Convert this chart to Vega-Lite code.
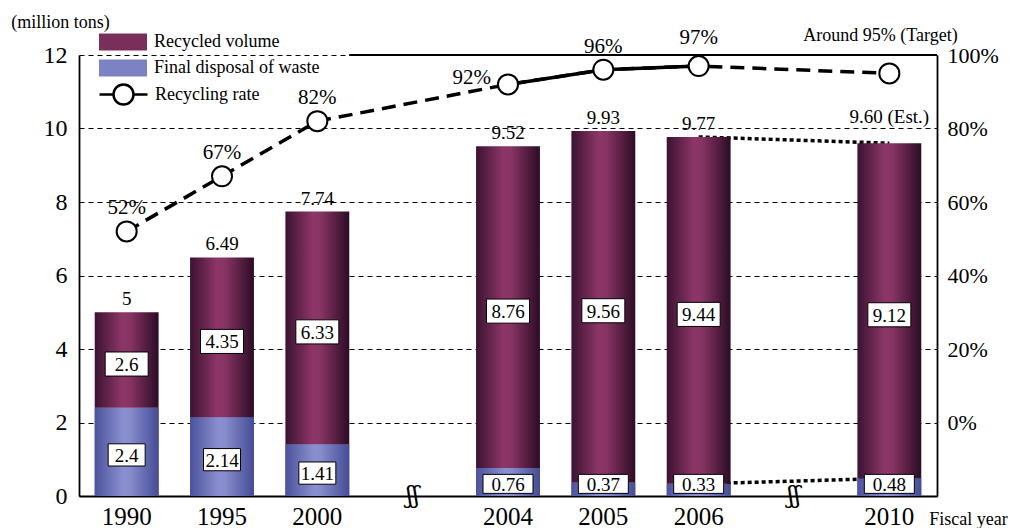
{
  "$schema": "https://vega.github.io/schema/vega-lite/v6.json",
  "width": 858,
  "height": 441,
  "autosize": {"type": "none"},
  "padding": {"left": 79, "top": 55, "right": 74, "bottom": 32},
  "background": "white",
  "config": {
    "font": "Liberation Serif",
    "view": {"stroke": null},
    "style": {
      "guide-label": {"font": "Liberation Serif", "fill": "black"},
      "guide-title": {"font": "Liberation Serif", "fill": "black", "fontWeight": "normal"}
    },
    "axis": {"labelColor": "black", "titleColor": "black", "labelFont": "Liberation Serif", "titleFont": "Liberation Serif", "titleFontWeight": "normal", "ticks": false, "domainColor": "black", "domainWidth": 1.8},
    "axisLeft": {"labelFont": "Liberation Serif", "titleFont": "Liberation Serif", "labelFontSize": 24, "titleFontSize": 18, "labelColor": "black", "titleColor": "black"},
    "axisRight": {"labelFont": "Liberation Serif", "titleFont": "Liberation Serif", "labelFontSize": 22, "titleFontSize": 18, "labelColor": "black", "titleColor": "black"},
    "legend": {"labelFont": "Liberation Serif", "titleFont": "Liberation Serif"},
    "text": {"font": "Liberation Serif", "color": "black"}
  },
  "datasets": {
    "main": [
      {"year": "1990", "disposal": 2.4, "recycled": 2.6, "total": 5, "totalLabel": "5", "rate": 52, "rateLabel": "52%"},
      {"year": "1995", "disposal": 2.14, "recycled": 4.35, "total": 6.49, "totalLabel": "6.49", "rate": 67, "rateLabel": "67%"},
      {"year": "2000", "disposal": 1.41, "recycled": 6.33, "total": 7.74, "totalLabel": "7.74", "rate": 82, "rateLabel": "82%"},
      {"year": "2004", "disposal": 0.76, "recycled": 8.76, "total": 9.52, "totalLabel": "9.52", "rate": 92, "rateLabel": "92%"},
      {"year": "2005", "disposal": 0.37, "recycled": 9.56, "total": 9.93, "totalLabel": "9.93", "rate": 96, "rateLabel": "96%"},
      {"year": "2006", "disposal": 0.33, "recycled": 9.44, "total": 9.77, "totalLabel": "9.77", "rate": 97, "rateLabel": "97%"},
      {"year": "2010", "disposal": 0.48, "recycled": 9.12, "total": 9.6, "totalLabel": "9.60 (Est.)", "rate": 95, "rateLabel": ""}
    ],
    "links": [
      {"year": "2006", "year2": "2010", "v1": 9.77, "v2": 9.6},
      {"year": "2006", "year2": "2010", "v1": 0.33, "v2": 0.48}
    ],
    "frameTop": [
      {"year": "2000", "top": 12}
    ],
    "breaks": [
      {"year": "gap1", "sym": "ʃʃ"},
      {"year": "gap2", "sym": "ʃʃ"}
    ],
    "legendRows": []
  },
  "encoding": {
    "x": {
      "field": "year",
      "type": "nominal",
      "scale": {"domain": ["1990", "1995", "2000", "gap1", "2004", "2005", "2006", "gap2", "2010"], "paddingInner": 0.33, "paddingOuter": 0.165},
      "axis": {
        "title": "Fiscal year",
        "titleX": 889,
        "titleY": 28,
        "titleAlign": "center",
        "titleBaseline": "alphabetic",
        "titleFontSize": 18,
        "titleFont": "Liberation Serif",
        "labelFont": "Liberation Serif",
        "labelExpr": "indexof(datum.value, 'gap') === 0 ? '' : datum.value",
        "labelFontSize": 25,
        "labelPadding": 8,
        "labelAngle": 0,
        "domain": true
      }
    }
  },
  "layer": [
    {
      "data": {"name": "main"},
      "transform": [
        {"calculate": "(datum.disposal + datum.total) / 2", "as": "recMid"},
        {"calculate": "datum.disposal / 2", "as": "disMid"}
      ],
      "layer": [
        {
          "mark": {"type": "bar", "fill": {"gradient": "linear", "x1": 0, "y1": 0, "x2": 1, "y2": 0, "stops": [{"offset": 0, "color": "#4c529c"}, {"offset": 0.45, "color": "#8a90cf"}, {"offset": 0.55, "color": "#868ccc"}, {"offset": 1, "color": "#464c95"}]}},
          "encoding": {
            "y": {
              "field": "disposal",
              "type": "quantitative",
              "scale": {"domain": [0, 12], "nice": false, "zero": true},
              "axis": {
                "title": "(million tons)",
                "titleFont": "Liberation Serif",
                "labelFont": "Liberation Serif",
                "titleAngle": 0,
                "titleX": -19,
                "titleY": -28,
                "titleAlign": "center",
                "titleBaseline": "alphabetic",
                "titleFontSize": 18,
                "values": [0, 2, 4, 6, 8, 10, 12],
                "labelFontSize": 24,
                "labelPadding": 12,
                "domain": true,
                "grid": true,
                "gridColor": "black",
                "gridDash": [5, 4],
                "gridWidth": 1.2,
                "gridOpacity": 1
              }
            }
          }
        },
        {
          "data": {"name": "links"},
          "mark": {"type": "rule", "strokeDash": [4, 3], "strokeWidth": 3.5, "color": "black"},
          "encoding": {
            "y": {"field": "v1", "type": "quantitative"},
            "y2": {"field": "v2"},
            "x2": {"field": "year2"}
          }
        },
        {
          "data": {"name": "frameTop"},
          "mark": {"type": "rule", "strokeWidth": 1.8, "color": "black"},
          "encoding": {
            "x": {"field": "year", "type": "nominal", "bandPosition": 1},
            "x2": {"value": "width"},
            "y": {"field": "top", "type": "quantitative"}
          }
        },
        {
          "mark": {"type": "bar", "fill": {"gradient": "linear", "x1": 0, "y1": 0, "x2": 1, "y2": 0, "stops": [{"offset": 0, "color": "#4c529c"}, {"offset": 0.45, "color": "#8a90cf"}, {"offset": 0.55, "color": "#868ccc"}, {"offset": 1, "color": "#464c95"}]}},
          "encoding": {
            "y": {"field": "disposal", "type": "quantitative"}
          }
        },
        {
          "mark": {"type": "bar", "fill": {"gradient": "linear", "x1": 0, "y1": 0, "x2": 1, "y2": 0, "stops": [{"offset": 0, "color": "#3b1232"}, {"offset": 0.42, "color": "#8b3666"}, {"offset": 0.55, "color": "#873464"}, {"offset": 1, "color": "#2c0c24"}]}},
          "encoding": {
            "y": {"field": "total", "type": "quantitative"},
            "y2": {"field": "disposal"}
          }
        },
        {
          "mark": {"type": "point", "shape": "M-1,-0.56H1V0.56H-1Z", "size": 1849, "filled": true, "fill": "white", "stroke": "black", "strokeWidth": 1, "opacity": 1, "yOffset": 4},
          "encoding": {"y": {"field": "recMid", "type": "quantitative"}}
        },
        {
          "mark": {"type": "text", "fontSize": 19, "baseline": "middle", "dy": 5},
          "encoding": {
            "y": {"field": "recMid", "type": "quantitative"},
            "text": {"field": "recycled", "type": "nominal"}
          }
        },
        {
          "transform": [{"filter": "datum.disposal >= 1"}],
          "layer": [
            {
              "mark": {"type": "point", "shape": "M-1,-0.6H1V0.6H-1Z", "size": 1369, "filled": true, "fill": "white", "stroke": "black", "strokeWidth": 1, "opacity": 1, "yOffset": 3},
              "encoding": {"y": {"field": "disMid", "type": "quantitative"}}
            },
            {
              "mark": {"type": "text", "fontSize": 19, "baseline": "middle", "dy": 4},
              "encoding": {
                "y": {"field": "disMid", "type": "quantitative"},
                "text": {"field": "disposal", "type": "nominal"}
              }
            }
          ]
        },
        {
          "transform": [{"filter": "datum.disposal < 1"}],
          "layer": [
            {
              "mark": {"type": "point", "shape": "M-1,-0.38H1V0.38H-1Z", "size": 2500, "filled": true, "fill": "white", "stroke": "black", "strokeWidth": 1, "opacity": 1},
              "encoding": {"y": {"datum": 0.33, "type": "quantitative"}}
            },
            {
              "mark": {"type": "text", "fontSize": 19, "baseline": "middle", "dy": 1},
              "encoding": {
                "y": {"datum": 0.33, "type": "quantitative"},
                "text": {"field": "disposal", "type": "nominal"}
              }
            }
          ]
        },
        {
          "transform": [{"filter": "datum.year !== '2010'"}],
          "mark": {"type": "text", "fontSize": 19, "baseline": "alphabetic", "dy": -7},
          "encoding": {
            "y": {"field": "total", "type": "quantitative"},
            "text": {"field": "totalLabel", "type": "nominal"}
          }
        },
        {
          "transform": [{"filter": "datum.year === '2010'"}],
          "mark": {"type": "text", "fontSize": 19, "baseline": "alphabetic", "dy": -20},
          "encoding": {
            "y": {"field": "total", "type": "quantitative"},
            "text": {"field": "totalLabel", "type": "nominal"}
          }
        },
        {
          "data": {"name": "breaks"},
          "mark": {"type": "text", "fontSize": 24, "baseline": "middle", "font": "DejaVu Serif"},
          "encoding": {
            "y": {"datum": 0, "type": "quantitative"},
            "text": {"field": "sym", "type": "nominal"}
          }
        }
      ]
    },
    {
      "data": {"name": "main"},
      "layer": [
        {
          "mark": {"type": "line", "strokeDash": [14, 8], "strokeWidth": 3.5, "color": "black"},
          "encoding": {
            "y": {
              "field": "rate",
              "type": "quantitative",
              "scale": {"domain": [-20, 100], "nice": false, "zero": false},
              "axis": {
                "orient": "right",
                "values": [0, 20, 40, 60, 80, 100],
                "labelExpr": "datum.value + '%'",
                "labelFont": "Liberation Serif",
                "titleFont": "Liberation Serif",
                "labelFontSize": 22,
                "labelPadding": 10,
                "domain": true,
                "grid": false,
                "title": "Around 95% (Target)",
                "titleAngle": 0,
                "titleX": -57,
                "titleY": -15,
                "titleAlign": "center",
                "titleBaseline": "alphabetic",
                "titleFontSize": 18
              }
            }
          }
        },
        {
          "transform": [{"filter": "datum.year === '2004' || datum.year === '2005' || datum.year === '2006'"}],
          "mark": {"type": "line", "strokeWidth": 3.5, "color": "black"},
          "encoding": {"y": {"field": "rate", "type": "quantitative"}}
        },
        {
          "mark": {"type": "point", "filled": true, "fill": "white", "stroke": "black", "strokeWidth": 2, "size": 400, "opacity": 1},
          "encoding": {"y": {"field": "rate", "type": "quantitative"}}
        },
        {
          "transform": [{"filter": "datum.year === '1990' || datum.year === '1995' || datum.year === '2000' || datum.year === '2005'"}],
          "mark": {"type": "text", "fontSize": 21, "baseline": "alphabetic", "dy": -17},
          "encoding": {
            "y": {"field": "rate", "type": "quantitative"},
            "text": {"field": "rateLabel", "type": "nominal"}
          }
        },
        {
          "transform": [{"filter": "datum.year === '2006'"}],
          "mark": {"type": "text", "fontSize": 21, "baseline": "alphabetic", "dy": -22},
          "encoding": {
            "y": {"field": "rate", "type": "quantitative"},
            "text": {"field": "rateLabel", "type": "nominal"}
          }
        },
        {
          "transform": [{"filter": "datum.year === '2004'"}],
          "mark": {"type": "text", "fontSize": 21, "baseline": "alphabetic", "align": "right", "dx": -17, "dy": 0},
          "encoding": {
            "y": {"field": "rate", "type": "quantitative"},
            "text": {"field": "rateLabel", "type": "nominal"}
          }
        },
        {
          "data": {"name": "legendRows"},
          "mark": {"type": "point", "filled": true, "opacity": 1},
          "encoding": {
            "y": {"field": "rate", "type": "quantitative"},
            "color": {
              "field": "series",
              "type": "nominal",
              "scale": {
                "domain": ["Recycled volume", "Final disposal of waste"],
                "range": ["#7a2e5a", "#7c82c4"]
              },
              "legend": {
                "orient": "none",
                "legendX": 31,
                "legendY": -26,
                "title": null,
                "padding": 2,
                "symbolType": "M-2.4,-0.85H2.4V0.85H-2.4Z",
                "symbolSize": 400,
                "symbolOpacity": 1,
                "labelFont": "Liberation Serif",
                "labelFontSize": 18,
                "labelColor": "black",
                "labelOffset": 20,
                "labelLimit": 400,
                "rowPadding": 6
              }
            }
          }
        },
        {
          "data": {"name": "legendRows"},
          "mark": {"type": "point", "filled": false, "opacity": 1},
          "encoding": {
            "y": {"field": "rate", "type": "quantitative"},
            "stroke": {
              "field": "series2",
              "type": "nominal",
              "scale": {"domain": ["Recycling rate"], "range": ["black"]},
              "legend": {
                "orient": "none",
                "legendX": 31,
                "legendY": 26,
                "title": null,
                "padding": 2,
                "symbolType": "M-2.4,0H-1M1,0H2.4M1,0A1,1,0,1,1,-1,0A1,1,0,1,1,1,0Z",
                "symbolSize": 400,
                "symbolOpacity": 1,
                "symbolStrokeWidth": 2.5,
                "labelFont": "Liberation Serif",
                "labelFontSize": 18,
                "labelColor": "black",
                "labelOffset": 20,
                "labelLimit": 400
              }
            }
          }
        }
      ]
    }
  ],
  "resolve": {"scale": {"y": "independent"}}
}
